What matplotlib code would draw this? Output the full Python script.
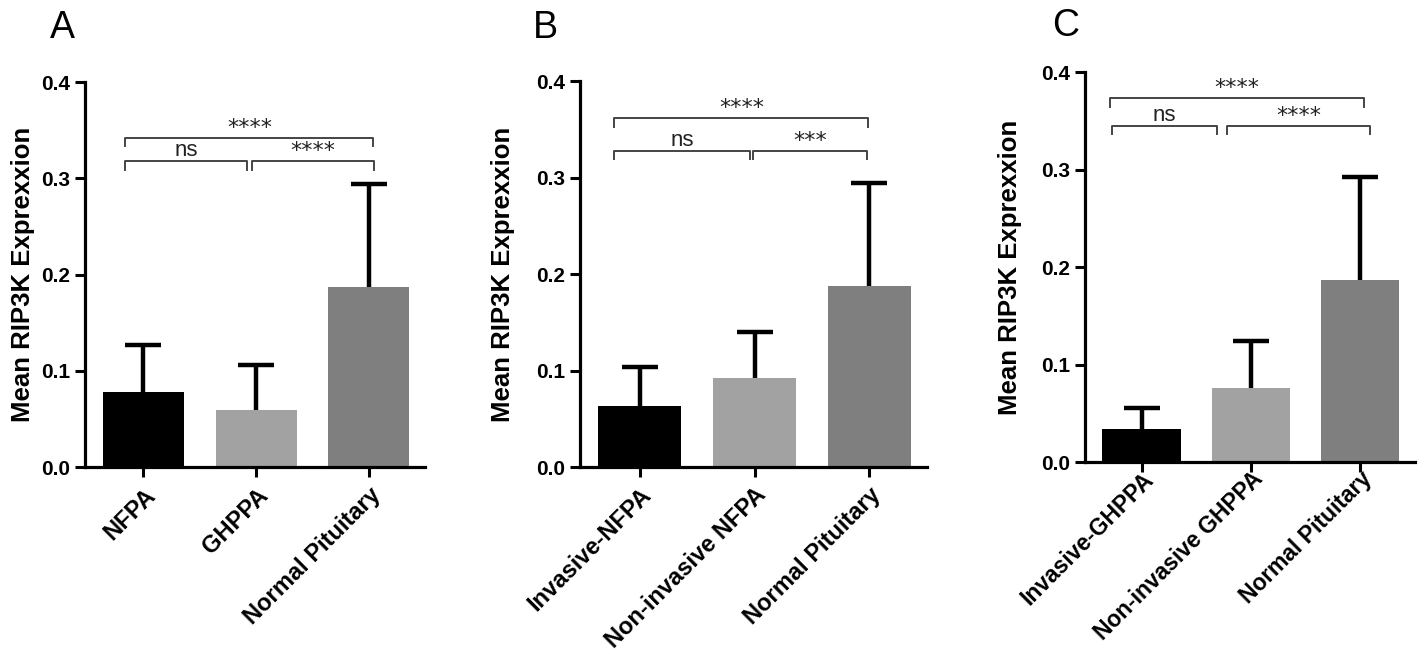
import matplotlib
matplotlib.use('Agg')
from matplotlib import pyplot as plt

plt.rcParams['font.family'] = ['Liberation Sans', 'DejaVu Sans']

# Panel A
groups_a = ['NFPA', 'GHPPA', 'Normal Pituitary']
means_a = [0.078, 0.059, 0.187]
sd_a = [0.049, 0.047, 0.107]
# brackets: (x start, x end, height, label)
sig_a = [(-0.16, 2.04, 0.342, '****'),
         (-0.16, 0.92, 0.318, 'ns'),
         (0.96, 2.05, 0.318, '****')]

# Panel B
groups_b = ['Invasive-NFPA', 'Non-invasive NFPA', 'Normal Pituitary']
means_b = [0.063, 0.092, 0.188]
sd_b = [0.041, 0.048, 0.107]
sig_b = [(-0.22, 1.99, 0.362, '****'),
         (-0.22, 0.96, 0.328, 'ns'),
         (0.99, 1.98, 0.328, '***')]

# Panel C
groups_c = ['Invasive-GHPPA', 'Non-invasive GHPPA', 'Normal Pituitary']
means_c = [0.034, 0.076, 0.187]
sd_c = [0.021, 0.048, 0.105]
sig_c = [(-0.29, 2.04, 0.373, '****'),
         (-0.27, 0.69, 0.345, 'ns'),
         (0.78, 2.09, 0.345, '****')]

bar_colors = ['#000000', '#a2a2a2', '#7f7f7f']
ylabel = 'Mean RIP3K Exprexxion'


def draw_panel(ax, groups, means, sd, sig, label_x, xpad=5, xsize=17):
    x = range(len(groups))
    bars = ax.bar(x, means, width=0.72, color=bar_colors, zorder=2,
                  yerr=[[0] * len(sd), sd], capsize=13,
                  error_kw=dict(elinewidth=3.2, capthick=3.2, ecolor='black'))
    # only the upper cap, like GraphPad
    bars.errorbar.lines[1][0].set_visible(False)
    ax.set_xlim(-0.52, 2.5)
    ax.set_ylim(0, 0.4)
    ax.set_yticks([0.0, 0.1, 0.2, 0.3, 0.4])
    ax.set_yticklabels(['0.0', '0.1', '0.2', '0.3', '0.4'],
                       fontsize=15, fontweight='bold')
    ax.set_xticks(list(x))
    ax.set_xticklabels(groups, rotation=45, ha='right', va='top',
                       rotation_mode='anchor', fontsize=xsize, fontweight='bold')
    ax.tick_params(axis='both', length=7, width=2.2, direction='out')
    ax.tick_params(axis='x', pad=xpad)
    for s in ['top', 'right']:
        ax.spines[s].set_visible(False)
    for s in ['left', 'bottom']:
        ax.spines[s].set_linewidth(2.3)
    ax.set_ylabel(ylabel, fontsize=18.5, fontweight='bold')
    ax.yaxis.set_label_coords(label_x, 0.5)

    for x1, x2, h, txt in sig:
        ax.plot([x1, x1, x2, x2], [h - 0.009, h, h, h - 0.009],
                color='#444444', lw=1.4, clip_on=False)
        if txt == 'ns':
            ax.text((x1 + x2) / 2, h + 0.005, txt, ha='center', va='baseline',
                    fontsize=16, color='#222222')
        else:
            ax.text((x1 + x2) / 2, h + 0.004, txt, ha='center', va='baseline',
                    fontsize=16, color='#222222', family='DejaVu Sans')


fig = plt.figure(figsize=(14.18, 6.56), dpi=100)

ax1 = fig.add_axes([0.0599, 0.288, 0.2398, 0.587])
draw_panel(ax1, groups_a, means_a, sd_a, sig_a, -0.147)

ax2 = fig.add_axes([0.409, 0.288, 0.2447, 0.588])
draw_panel(ax2, groups_b, means_b, sd_b, sig_b, -0.187)

ax3 = fig.add_axes([0.765, 0.2957, 0.2327, 0.5945])
draw_panel(ax3, groups_c, means_c, sd_c, sig_c, -0.19, xpad=-3, xsize=16.5)

fig.text(50 / 1418, 0.942, 'A', fontsize=27, ha='left', va='baseline')
fig.text(533 / 1418, 0.942, 'B', fontsize=27, ha='left', va='baseline')
fig.text(1052 / 1418, 0.945, 'C', fontsize=27, ha='left', va='baseline')

plt.savefig('out.png', dpi=100)
